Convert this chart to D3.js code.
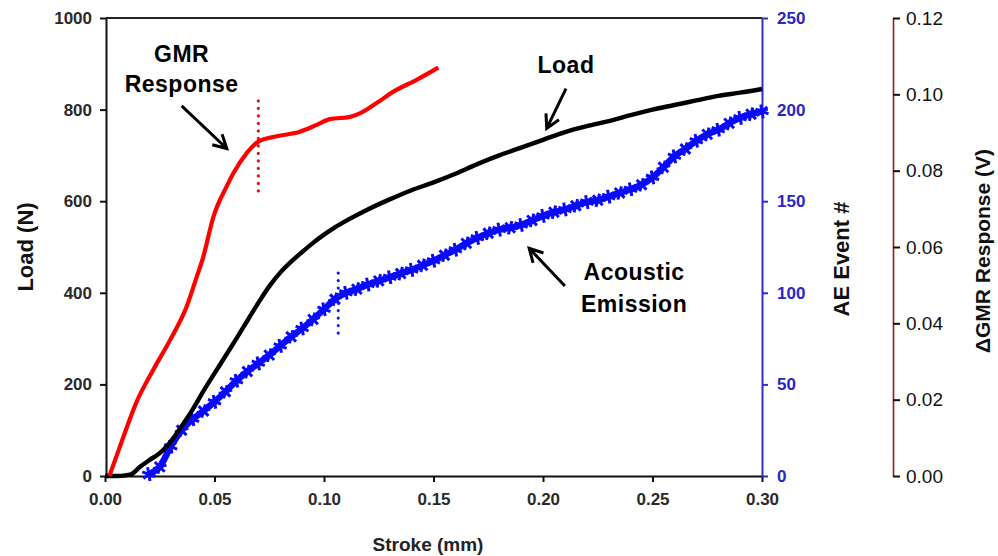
<!DOCTYPE html>
<html>
<head>
<meta charset="utf-8">
<script src="https://cdn.jsdelivr.net/npm/d3@7"></script>
<style>
  body { margin: 0; background: #fff; }
  svg { display: block; font-family: Arial, "Liberation Sans", sans-serif; }
</style>
</head>
<body>
<svg id="chart" width="998" height="556"></svg>
<script>
// ---- Data ----
// Load curve: stroke (mm) vs load (N)
const loadStroke = [0.000,0.005,0.010,0.012,0.016,0.020,0.025,0.028,0.032,0.036,0.040,0.045,0.050,0.055,0.060,0.065,0.070,0.075,0.080,0.085,0.090,0.095,0.100,0.105,0.110,0.120,0.130,0.140,0.150,0.160,0.170,0.180,0.190,0.200,0.210,0.220,0.230,0.240,0.250,0.260,0.270,0.280,0.290,0.300];
const loadValues = [0,0,2,4,20,34,50,64,88,116,145,186,224,262,300,339,378,414,444,468,489,509,527,543,557,582,604,624,641,660,681,700,717,734,751,764,775,788,800,810,820,830,837,845];

// GMR response: stroke (mm) vs ΔGMR (V)
const gmrStroke = [0.002,0.0068,0.0145,0.022,0.0297,0.0373,0.0415,0.0449,0.0495,0.0555,0.0586,0.0647,0.070,0.0784,0.089,0.0967,0.1027,0.1119,0.1164,0.124,0.1317,0.1423,0.1522];
const gmrValues = [0.000,0.0077,0.0195,0.0278,0.0356,0.0444,0.0515,0.0575,0.0679,0.0758,0.0793,0.0846,0.0876,0.0890,0.0902,0.0920,0.0935,0.0941,0.0950,0.0977,0.1007,0.1038,0.1070];

// Acoustic emission: stroke (mm) vs cumulative AE event #
const aeStroke = [0.020,0.025,0.030,0.035,0.040,0.045,0.050,0.055,0.060,0.065,0.070,0.075,0.080,0.085,0.090,0.095,0.100,0.105,0.110,0.115,0.120,0.125,0.130,0.135,0.140,0.145,0.150,0.155,0.160,0.165,0.170,0.175,0.180,0.185,0.190,0.195,0.200,0.205,0.210,0.215,0.220,0.225,0.230,0.235,0.240,0.245,0.250,0.255,0.260,0.265,0.270,0.275,0.280,0.285,0.290,0.295,0.300];
const aeValues = [1,5,16,25,31,35.5,40.5,46,52,57,61.5,66,71,76,80.5,85.5,91,96.5,100,102,104.5,106.5,108.5,110.5,112.5,115,117.5,120.5,123.5,127,130,132.5,134.5,135.5,137,139.5,142,144,145.5,147.5,149.5,150.5,152.5,154.5,156.5,159,163,168.5,174.5,178.5,183,186.5,189,192.5,195.5,197.5,199];

// Dotted markers (stroke position and span)
const gmrMarkStroke = 0.070, gmrMarkSpan = [0.0747, 0.0988];
const aeMarkStroke = 0.1065, aeMarkSpan = [78, 114];

// Tick values
const xTicks = [0,0.05,0.10,0.15,0.20,0.25,0.30];
const loadTicks = [0,200,400,600,800,1000];
const aeTicks = [0,50,100,150,200,250];
const gmrTicks = [0,0.02,0.04,0.06,0.08,0.10,0.12];

// Text
const xTitle = "Stroke (mm)";
const loadTitle = "Load (N)";
const aeTitle = "AE Event #";
const gmrTitle = "\u0394GMR Response (V)";

(function () {
// ---- Layout ----
const svg = d3.select("#chart");
const pLeft = 106, pRight = 762, pTop = 18, pBottom = 476, gmrAxisX = 893;

const x = d3.scaleLinear().domain([0, 0.30]).range([pLeft - 1, pRight]);
const yL = d3.scaleLinear().domain([0, 1000]).range([pBottom, pTop]);
const yAE = d3.scaleLinear().domain([0, 250]).range([pBottom, pTop]);
const yG = d3.scaleLinear().domain([0, 0.12]).range([pBottom, pTop]);

const FONT = "Arial, 'Liberation Sans', sans-serif";

// top frame line
svg.append("line").attr("x1", pLeft).attr("x2", pRight).attr("y1", pTop).attr("y2", pTop)
  .attr("stroke", "#222").attr("stroke-width", 2);

// Left axis
const gL = svg.append("g").attr("transform", `translate(${pLeft},0)`)
  .call(d3.axisLeft(yL).tickValues(loadTicks).tickFormat(d3.format("d")).tickSize(6).tickSizeOuter(0).tickPadding(8));
gL.select(".domain").attr("stroke", "#111").attr("stroke-width", 2);
gL.selectAll(".tick line").attr("stroke", "#111").attr("stroke-width", 2);
gL.selectAll(".tick text").attr("font-size", 17).attr("font-weight", "bold").attr("fill", "#2a2a2a")
  .attr("font-family", FONT);

// Bottom axis
const gB = svg.append("g").attr("transform", `translate(0,${pBottom})`)
  .call(d3.axisBottom(x).tickValues(xTicks).tickFormat(d3.format(".2f")).tickSize(6).tickSizeOuter(0).tickPadding(11));
gB.select(".domain").attr("stroke", "#111").attr("stroke-width", 2);
gB.selectAll(".tick line").attr("stroke", "#111").attr("stroke-width", 2);
gB.selectAll(".tick text").attr("font-size", 17).attr("font-weight", "bold").attr("fill", "#2a2a2a")
  .attr("font-family", FONT);

// Right AE axis (blue)
const gA = svg.append("g").attr("transform", `translate(${pRight},0)`)
  .call(d3.axisRight(yAE).tickValues(aeTicks).tickSize(6).tickSizeOuter(0).tickPadding(9));
gA.select(".domain").attr("stroke", "#2f2fd0").attr("stroke-width", 2);
gA.selectAll(".tick line").attr("stroke", "#2f2fd0").attr("stroke-width", 2);
gA.selectAll(".tick text").attr("font-size", 17).attr("font-weight", "bold").attr("fill", "#2727c8")
  .attr("font-family", FONT);

// Far-right GMR axis
const gG = svg.append("g").attr("transform", `translate(${gmrAxisX},0)`)
  .call(d3.axisRight(yG).tickValues(gmrTicks).tickFormat(d3.format(".2f")).tickSize(7).tickSizeOuter(0).tickPadding(6));
gG.select(".domain").attr("stroke", "#9a1a1a").attr("stroke-width", 1.6);
gG.selectAll(".tick line").attr("stroke", "#111").attr("stroke-width", 2);
gG.selectAll(".tick text").attr("font-size", 19).attr("fill", "#111")
  .attr("font-family", FONT);

// Axis titles
svg.append("text").attr("x", (pLeft + pRight) / 2 - 6).attr("y", 551)
  .attr("text-anchor", "middle").attr("font-size", 19).attr("font-weight", "bold").attr("fill", "#222")
  .text(xTitle);
svg.append("text").attr("transform", `translate(33,${(pTop + pBottom) / 2}) rotate(-90)`)
  .attr("text-anchor", "middle").attr("font-size", 22).attr("font-weight", "bold").attr("fill", "#111")
  .text(loadTitle);
svg.append("text").attr("transform", `translate(849,${(pTop + pBottom) / 2 + 12}) rotate(-90)`)
  .attr("text-anchor", "middle").attr("font-size", 22).attr("font-weight", "bold").attr("fill", "#111")
  .text(aeTitle);
svg.append("text").attr("transform", `translate(990,${(pTop + pBottom) / 2 + 4}) rotate(-90)`)
  .attr("text-anchor", "middle").attr("font-size", 21).attr("font-weight", "bold").attr("fill", "#111")
  .text(gmrTitle);

// ---- Series ----
const loadData = loadStroke.map((s, i) => [s, loadValues[i]]);
const gmrData = gmrStroke.map((s, i) => [s, gmrValues[i]]);
const aeData = aeStroke.map((s, i) => [s, aeValues[i]]);

// AE band + markers
svg.append("path").datum(aeData)
  .attr("d", d3.line().x(d => x(d[0])).y(d => yAE(d[1])).curve(d3.curveMonotoneX))
  .attr("fill", "none").attr("stroke", "#0a0aff").attr("stroke-width", 6.5);
const starType = d3.symbolAsterisk || d3.symbolCross;
svg.append("g").selectAll("path").data(aeData).join("path")
  .attr("transform", (d, i) => `translate(${x(d[0])},${yAE(d[1])}) rotate(${i % 2 ? 15 : -10})`)
  .attr("d", d3.symbol().type(starType).size(135))
  .attr("fill", "none").attr("stroke", "#0a0aff").attr("stroke-width", 3);

// Load
svg.append("path").datum(loadData)
  .attr("d", d3.line().x(d => x(d[0])).y(d => yL(d[1])).curve(d3.curveMonotoneX))
  .attr("fill", "none").attr("stroke", "#000").attr("stroke-width", 4.4).attr("stroke-linejoin", "round");

// GMR
svg.append("path").datum(gmrData)
  .attr("d", d3.line().x(d => x(d[0])).y(d => yG(d[1])).curve(d3.curveMonotoneX))
  .attr("fill", "none").attr("stroke", "#ff0000").attr("stroke-width", 4.2).attr("stroke-linejoin", "round");

// Dotted markers
svg.append("line")
  .attr("x1", x(gmrMarkStroke)).attr("x2", x(gmrMarkStroke))
  .attr("y1", yG(gmrMarkSpan[0])).attr("y2", yG(gmrMarkSpan[1]))
  .attr("stroke", "#e01010").attr("stroke-width", 3.2).attr("stroke-linecap", "round")
  .attr("stroke-dasharray", "0,7.5");
svg.append("line")
  .attr("x1", x(aeMarkStroke)).attr("x2", x(aeMarkStroke))
  .attr("y1", yAE(aeMarkSpan[0])).attr("y2", yAE(aeMarkSpan[1]))
  .attr("stroke", "#1515ee").attr("stroke-width", 3.2).attr("stroke-linecap", "round")
  .attr("stroke-dasharray", "0,7.5");

// ---- Annotations (in data units: stroke, load) ----
function label(lines, s, baseLoad, lineGap) {
  lines.forEach((t, i) => {
    svg.append("text").attr("x", x(s)).attr("y", yL(baseLoad) + i * lineGap)
      .attr("text-anchor", "middle").attr("font-size", 23).attr("font-weight", "bold")
      .attr("letter-spacing", 0.5).attr("fill", "#000").text(t);
  });
}
function arrow(s0, l0, s1, l1) {
  const x0 = x(s0), y0 = yL(l0), x1 = x(s1), y1 = yL(l1);
  const a = Math.atan2(y1 - y0, x1 - x0), h = 15, w = 0.5;
  const p = d3.path();
  p.moveTo(x0, y0); p.lineTo(x1, y1);
  p.moveTo(x1 - h * Math.cos(a - w), y1 - h * Math.sin(a - w));
  p.lineTo(x1, y1);
  p.lineTo(x1 - h * Math.cos(a + w), y1 - h * Math.sin(a + w));
  svg.append("path").attr("d", p.toString()).attr("fill", "none")
    .attr("stroke", "#000").attr("stroke-width", 3).attr("stroke-linejoin", "miter");
}
label(["GMR", "Response"], 0.035, 904, 30);
arrow(0.035, 808, 0.0556, 715);
label(["Load"], 0.2105, 880, 0);
arrow(0.2105, 846, 0.2017, 759);
label(["Acoustic", "Emission"], 0.2416, 428, 31.7);
arrow(0.210, 415, 0.1937, 497);
})();
</script>
</body>
</html>
